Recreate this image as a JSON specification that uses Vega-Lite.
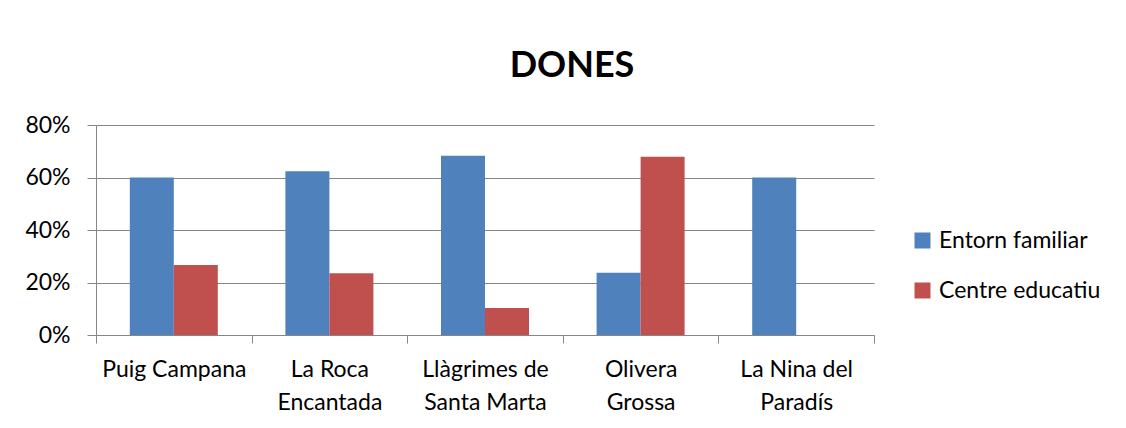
{
  "$schema": "https://vega.github.io/schema/vega-lite/v6.json",
  "autosize": "none",
  "width": 778,
  "height": 210,
  "padding": {"left": 96, "top": 125, "right": 252, "bottom": 93},
  "background": "white",
  "config": {
    "font": "Lato",
    "view": {"stroke": null}
  },
  "title": {
    "text": "DONES",
    "font": "Lato",
    "fontSize": 36,
    "fontWeight": "bold",
    "color": "black",
    "anchor": "middle",
    "dx": 87,
    "baseline": "alphabetic",
    "offset": 1
  },
  "data": {
    "values": [
      {"lloc": "Puig Campana", "serie": "Entorn familiar", "valor": 0.60},
      {"lloc": "Puig Campana", "serie": "Centre educatiu", "valor": 0.267},
      {"lloc": "La Roca Encantada", "serie": "Entorn familiar", "valor": 0.624},
      {"lloc": "La Roca Encantada", "serie": "Centre educatiu", "valor": 0.235},
      {"lloc": "Llàgrimes de Santa Marta", "serie": "Entorn familiar", "valor": 0.683},
      {"lloc": "Llàgrimes de Santa Marta", "serie": "Centre educatiu", "valor": 0.103},
      {"lloc": "Olivera Grossa", "serie": "Entorn familiar", "valor": 0.237},
      {"lloc": "Olivera Grossa", "serie": "Centre educatiu", "valor": 0.679},
      {"lloc": "La Nina del Paradís", "serie": "Entorn familiar", "valor": 0.60},
      {"lloc": "La Nina del Paradís", "serie": "Centre educatiu", "valor": 0}
    ]
  },
  "mark": {"type": "bar"},
  "encoding": {
    "x": {
      "field": "lloc",
      "type": "nominal",
      "sort": null,
      "scale": {"paddingInner": 0, "paddingOuter": 0},
      "axis": {
        "title": null,
        "labelAngle": 0,
        "tickBand": "extent",
        "tickSize": 8,
        "tickColor": "#868686",
        "domainColor": "#868686",
        "labelFontSize": 23,
        "labelColor": "black",
        "labelLineHeight": 33,
        "labelPadding": 15,
        "labelLimit": 300,
        "labelExpr": "datum.value == 'Puig Campana' ? 'Puig Campana' : datum.value == 'La Roca Encantada' ? ['La Roca', 'Encantada'] : datum.value == 'Llàgrimes de Santa Marta' ? ['Llàgrimes de', 'Santa Marta'] : datum.value == 'Olivera Grossa' ? ['Olivera', 'Grossa'] : datum.value == 'La Nina del Paradís' ? ['La Nina del', 'Paradís'] : ''"
      }
    },
    "xOffset": {
      "field": "serie",
      "type": "nominal",
      "sort": ["Entorn familiar", "Centre educatiu"],
      "scale": {"paddingInner": 0, "paddingOuter": 0.768}
    },
    "y": {
      "field": "valor",
      "type": "quantitative",
      "scale": {"domain": [0, 0.8]},
      "axis": {
        "title": null,
        "values": [0, 0.2, 0.4, 0.6, 0.8],
        "format": ".0%",
        "tickSize": 9,
        "tickColor": "#868686",
        "domainColor": "#868686",
        "gridColor": "#868686",
        "labelFontSize": 23,
        "labelColor": "black",
        "labelPadding": 17
      }
    },
    "color": {
      "field": "serie",
      "type": "nominal",
      "scale": {"domain": ["Entorn familiar", "Centre educatiu"], "range": ["#4F81BD", "#C0504D"]},
      "legend": {
        "title": null,
        "orient": "none",
        "legendX": 815,
        "legendY": 104,
        "symbolType": "square",
        "symbolSize": 256,
        "symbolStrokeWidth": 0,
        "labelFontSize": 23,
        "labelColor": "black",
        "labelOffset": 5,
        "labelLimit": 300,
        "rowPadding": 26
      }
    }
  }
}
